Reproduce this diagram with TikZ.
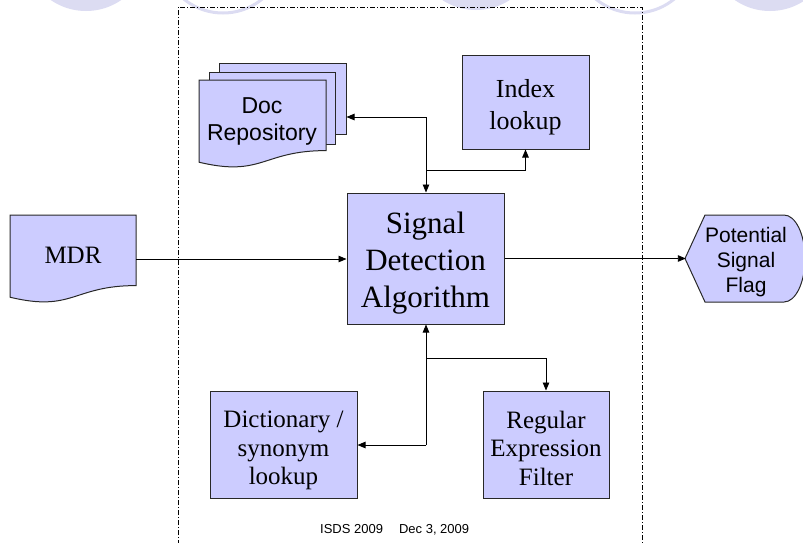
\documentclass[tikz,border=0pt]{standalone}
\usepackage{fontspec}
\setmainfont{Liberation Serif}
\setsansfont{Liberation Sans}
\usetikzlibrary{arrows.meta}
\definecolor{boxfill}{RGB}{204,204,255}
\definecolor{circ}{RGB}{220,220,242}
\definecolor{edge}{RGB}{40,40,40}
\tikzset{
 box/.style={draw=edge, fill=boxfill, line width=1pt, inner sep=0pt, align=center},
 shapeline/.style={draw=edge, fill=boxfill, line width=1pt},
 conn/.style={line width=0.9pt, draw=black},
 arr/.style={conn, -{Triangle[length=8pt,width=6.5pt]}},
 frameline/.style={line width=1pt, dash pattern=on 5pt off 2pt on 1pt off 2pt},
 serifbig/.style={font=\fontsize{31}{37}\selectfont},
 serifmid/.style={font=\fontsize{25}{28.5}\selectfont},
 sansmid/.style={font=\sffamily\fontsize{23}{27}\selectfont},
}
\newcommand\docshape[4]{%
 \path[shapeline] (#1,#2) -- ({#1+#3},#2) -- ({#1+#3},{#2+0.802*#4})
   .. controls ({#1+0.5*#3},{#2+0.802*#4}) and ({#1+0.5*#3},{#2+1.107*#4}) ..
   (#1,{#2+0.934*#4}) -- cycle;}
\newcommand\topstrut[1]{\rule{0pt}{#1}}
\begin{document}
\begin{tikzpicture}[x=1pt,y=-1pt]
\useasboundingbox (0,0) rectangle (803,542);
\begin{scope}
\clip (0,0) rectangle (803,542);
\fill[circ] (86,-51) circle[radius=62pt];
\fill[circ] (476,-52) circle[radius=62pt];
\fill[circ] (770,-51) circle[radius=62pt];
\draw[circ, line width=3pt] (223,-49) circle[radius=62pt];
\draw[circ, line width=3pt] (635,-49) circle[radius=62pt];
\draw[frameline] (178,545) -- (178,7) -- (642,7) -- (642,545);
% flag shape
\path[shapeline] (685,258.5) -- (705,215) -- (784,215)
   arc[start angle=90, end angle=-90, x radius=21pt, y radius=43.5pt]
   -- (705,302) -- cycle;
\end{scope}

% MDR document
\docshape{10}{215}{126}{88}
\node[minimum width=126pt, minimum height=88pt, inner sep=0pt, serifmid] (mdr) at (73,259) {\rule[-8pt]{0pt}{8pt}MDR};

% Doc repository (stacked documents)
\node[box, minimum width=127pt, minimum height=71pt] (repo) at (282.5,98.5) {};
\node[box, minimum width=126pt, minimum height=72pt] (repomid) at (272,108) {};
\docshape{199}{80}{127}{88}
\node[sansmid, align=center, inner sep=0pt] (repotext) at (262,121.5) {Doc\\Repository};

% boxes
\node[box, minimum width=127pt, minimum height=94pt, font=\fontsize{26}{32}\selectfont] (idx) at (525.5,102) {\topstrut{28pt}Index\\lookup};
\node[box, minimum width=157pt, minimum height=131pt, serifbig] (sda) at (425.5,258.5) {\topstrut{31pt}Signal\\Detection\\Algorithm};
\node[box, minimum width=147pt, minimum height=107pt, serifmid] (dict) at (283.5,444.5) {\topstrut{29pt}Dictionary /\\synonym\\lookup};
\node[box, minimum width=126pt, minimum height=107pt, serifmid] (regex) at (546,444.5) {\topstrut{25pt}Regular\\Expression\\Filter};
\node[minimum width=120pt, minimum height=87pt, inner sep=0pt, align=center,
      font=\sffamily\fontsize{21}{25}\selectfont] (flag) at (746,258.5) {\topstrut{23pt}Potential\\Signal\\Flag};

% connectors
\draw[arr] (mdr.east) -- (mdr.east -| sda.west);
\draw[arr] (sda.east) -- (flag.west);
\coordinate (jt) at (426,117);
\coordinate (jt2) at (426,170);
\draw[arr] (jt) -- (jt -| repo.east);
\draw[arr] (jt) -- (jt |- sda.north);
\draw[arr] (jt2) -| (idx.south);
\coordinate (jb) at (426,358);
\coordinate (jb2) at (426,445);
\draw[arr] (jb2) -- (jb2 |- sda.south);
\draw[arr] (jb2) -- (jb2 -| dict.east);
\draw[arr] (jb) -| (regex.north);

\node[font=\sffamily\fontsize{13}{15}\selectfont, anchor=west, inner sep=0pt] (foot) at (320,530) {ISDS 2009\hspace{16pt}Dec 3, 2009};
\end{tikzpicture}
\end{document}
